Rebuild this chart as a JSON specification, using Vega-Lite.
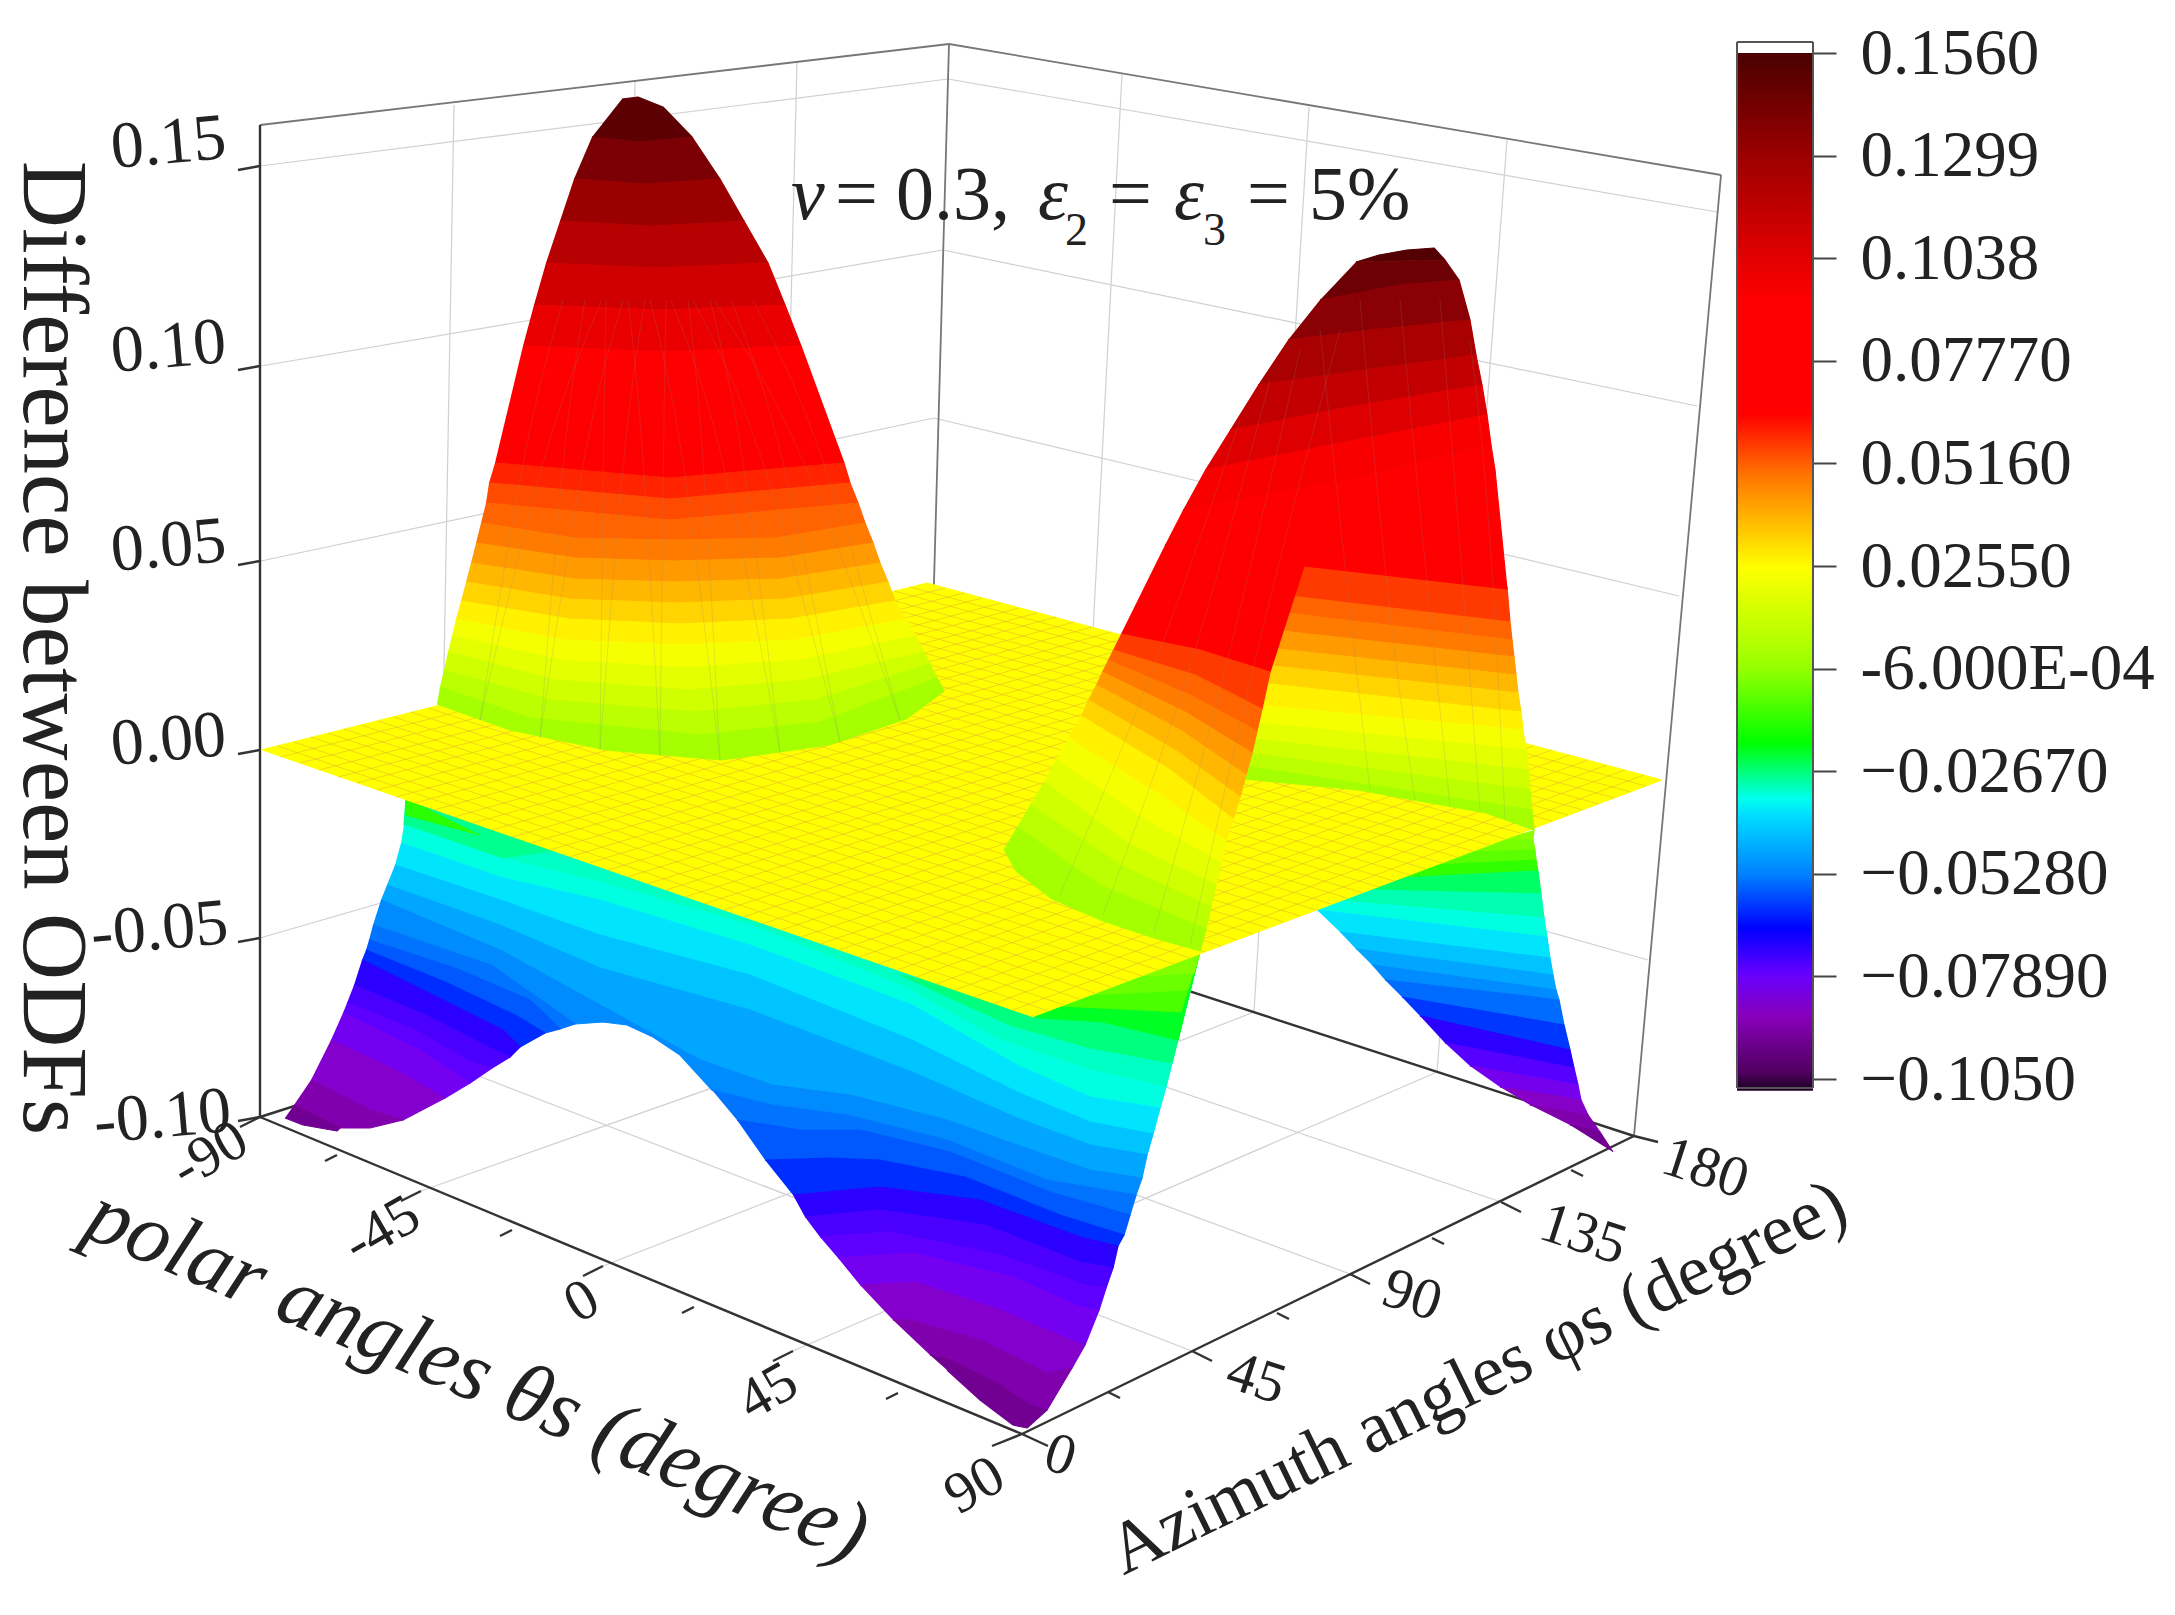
{"$schema":"https://vega.github.io/schema/vega-lite/v6.json","width":2175,"height":1615,"autosize":{"type":"none"},"padding":0,"background":"white","config":{"view":{"stroke":null},"text":{"font":"Liberation Serif","color":"#222222"}},"datasets":{"bar":[{"a":0.156,"b":-0.108}],
"grid":[{"x":260,"y":166,"x2":948,"y2":79},{"x":261,"y":366,"x2":943,"y2":250},{"x":261,"y":561,"x2":934,"y2":418},{"x":260,"y":938,"x2":926,"y2":745},{"x":948,"y":79,"x2":1717,"y2":212},{"x":943,"y":250,"x2":1697,"y2":406},{"x":934,"y":418,"x2":1679,"y2":596},{"x":926,"y":755,"x2":1648,"y2":960},{"x":454,"y":105,"x2":437,"y2":1060},{"x":635,"y":82,"x2":618,"y2":1003},{"x":797,"y":62,"x2":775,"y2":953},{"x":1122,"y":74,"x2":1076,"y2":959},{"x":1309,"y":107,"x2":1254,"y2":1012},{"x":1507,"y":140,"x2":1437,"y2":1072},{"x":1192,"y":1351,"x2":437,"y2":1060},{"x":1350,"y":1274,"x2":618,"y2":1003},{"x":1501,"y":1202,"x2":775,"y2":953},{"x":421,"y":1191,"x2":1076,"y2":959},{"x":603,"y":1266,"x2":1254,"y2":1012},{"x":793,"y":1351,"x2":1437,"y2":1072}],
"box":[{"x":260,"y":125,"x2":949,"y2":44},{"x":949,"y":44,"x2":1721,"y2":175},{"x":1721,"y":175,"x2":1634,"y2":1136},{"x":949,"y":44,"x2":925,"y2":905}],
"axes":[{"x":260,"y":125,"x2":260,"y2":1117},{"x":260,"y":1117,"x2":1022,"y2":1434},{"x":1022,"y":1434,"x2":1634,"y2":1136},{"x":260,"y":1117,"x2":925,"y2":905},{"x":925,"y":905,"x2":1634,"y2":1136},{"x":238,"y":170,"x2":260,"y2":166},{"x":238,"y":370,"x2":260,"y2":366},{"x":238,"y":565,"x2":260,"y2":561},{"x":238,"y":754,"x2":260,"y2":750},{"x":238,"y":942,"x2":260,"y2":938},{"x":238,"y":1121,"x2":260,"y2":1117},{"x":260,"y":1117,"x2":240,"y2":1127},{"x":421,"y":1191,"x2":401,"y2":1201},{"x":603,"y":1266,"x2":583,"y2":1276},{"x":793,"y":1351,"x2":773,"y2":1361},{"x":1022,"y":1434,"x2":992,"y2":1446},{"x":337,"y":1155,"x2":325,"y2":1161},{"x":512,"y":1230,"x2":500,"y2":1236},{"x":694,"y":1307,"x2":682,"y2":1313},{"x":898,"y":1393,"x2":886,"y2":1399},{"x":1022,"y":1434,"x2":1048,"y2":1446},{"x":1192,"y":1351,"x2":1212,"y2":1361},{"x":1350,"y":1274,"x2":1370,"y2":1284},{"x":1501,"y":1202,"x2":1521,"y2":1212},{"x":1634,"y":1136,"x2":1658,"y2":1142},{"x":1108,"y":1392,"x2":1120,"y2":1398},{"x":1277,"y":1313,"x2":1289,"y2":1319},{"x":1432,"y":1238,"x2":1444,"y2":1244},{"x":1571,"y":1170,"x2":1583,"y2":1176}],
"barbox":[{"x":1737,"y":42,"x2":1813,"y2":42},{"x":1737,"y":1088,"x2":1813,"y2":1088},{"x":1737,"y":42,"x2":1737,"y2":1088},{"x":1813,"y":42,"x2":1813,"y2":1088}],
"mesh":[{"x":278,"y":746,"x2":1048,"y2":1011},{"x":294,"y":742,"x2":1064,"y2":1005},{"x":311,"y":737,"x2":1079,"y2":999},{"x":328,"y":733,"x2":1095,"y2":993},{"x":344,"y":729,"x2":1111,"y2":987},{"x":361,"y":725,"x2":1127,"y2":981},{"x":378,"y":721,"x2":1142,"y2":976},{"x":394,"y":717,"x2":1158,"y2":970},{"x":411,"y":712,"x2":1174,"y2":964},{"x":428,"y":708,"x2":1190,"y2":958},{"x":444,"y":704,"x2":1205,"y2":952},{"x":461,"y":700,"x2":1221,"y2":946},{"x":477,"y":696,"x2":1237,"y2":940},{"x":494,"y":692,"x2":1253,"y2":934},{"x":511,"y":687,"x2":1268,"y2":928},{"x":527,"y":683,"x2":1284,"y2":922},{"x":544,"y":679,"x2":1300,"y2":916},{"x":561,"y":675,"x2":1316,"y2":910},{"x":577,"y":671,"x2":1331,"y2":904},{"x":594,"y":667,"x2":1347,"y2":898},{"x":611,"y":662,"x2":1363,"y2":893},{"x":627,"y":658,"x2":1379,"y2":887},{"x":644,"y":654,"x2":1394,"y2":881},{"x":661,"y":650,"x2":1410,"y2":875},{"x":677,"y":646,"x2":1426,"y2":869},{"x":694,"y":641,"x2":1442,"y2":863},{"x":711,"y":637,"x2":1457,"y2":857},{"x":727,"y":633,"x2":1473,"y2":851},{"x":744,"y":629,"x2":1489,"y2":845},{"x":761,"y":625,"x2":1505,"y2":839},{"x":777,"y":621,"x2":1520,"y2":833},{"x":794,"y":616,"x2":1536,"y2":827},{"x":810,"y":612,"x2":1552,"y2":821},{"x":827,"y":608,"x2":1568,"y2":815},{"x":844,"y":604,"x2":1583,"y2":810},{"x":860,"y":600,"x2":1599,"y2":804},{"x":877,"y":596,"x2":1615,"y2":798},{"x":894,"y":591,"x2":1631,"y2":792},{"x":910,"y":587,"x2":1646,"y2":786},{"x":280,"y":757,"x2":945,"y2":588},{"x":300,"y":763,"x2":964,"y2":593},{"x":319,"y":770,"x2":982,"y2":598},{"x":338,"y":777,"x2":1001,"y2":603},{"x":357,"y":783,"x2":1019,"y2":608},{"x":377,"y":790,"x2":1037,"y2":613},{"x":396,"y":797,"x2":1056,"y2":617},{"x":415,"y":803,"x2":1074,"y2":622},{"x":434,"y":810,"x2":1092,"y2":627},{"x":454,"y":817,"x2":1111,"y2":632},{"x":473,"y":823,"x2":1129,"y2":637},{"x":492,"y":830,"x2":1148,"y2":642},{"x":512,"y":837,"x2":1166,"y2":647},{"x":531,"y":843,"x2":1184,"y2":652},{"x":550,"y":850,"x2":1203,"y2":657},{"x":569,"y":857,"x2":1221,"y2":662},{"x":589,"y":863,"x2":1239,"y2":667},{"x":608,"y":870,"x2":1258,"y2":672},{"x":627,"y":877,"x2":1276,"y2":677},{"x":647,"y":884,"x2":1295,"y2":682},{"x":666,"y":890,"x2":1313,"y2":686},{"x":685,"y":897,"x2":1331,"y2":691},{"x":704,"y":904,"x2":1350,"y2":696},{"x":724,"y":910,"x2":1368,"y2":701},{"x":743,"y":917,"x2":1386,"y2":706},{"x":762,"y":924,"x2":1405,"y2":711},{"x":781,"y":930,"x2":1423,"y2":716},{"x":801,"y":937,"x2":1441,"y2":721},{"x":820,"y":944,"x2":1460,"y2":726},{"x":839,"y":950,"x2":1478,"y2":731},{"x":859,"y":957,"x2":1497,"y2":736},{"x":878,"y":964,"x2":1515,"y2":741},{"x":897,"y":970,"x2":1533,"y2":746},{"x":916,"y":977,"x2":1552,"y2":750},{"x":936,"y":984,"x2":1570,"y2":755},{"x":955,"y":990,"x2":1588,"y2":760},{"x":974,"y":997,"x2":1607,"y2":765},{"x":993,"y":1004,"x2":1625,"y2":770},{"x":1013,"y":1010,"x2":1644,"y2":775}],
"plane":[{"x":261,"y":750},{"x":927,"y":583},{"x":1662,"y":780},{"x":1032,"y":1017}],
"under":[
{"p":"U0","z":-0.029,"x":406,"y":798},{"p":"U0","z":-0.029,"x":1032,"y":1014},{"p":"U0","z":-0.029,"x":1200,"y":951},{"p":"U0","z":-0.029,"x":1166,"y":1087},{"p":"U0","z":-0.029,"x":1090,"y":1070},{"p":"U0","z":-0.029,"x":1000,"y":1040},{"p":"U0","z":-0.029,"x":900,"y":985},{"p":"U0","z":-0.029,"x":750,"y":925},{"p":"U0","z":-0.029,"x":600,"y":882},{"p":"U0","z":-0.029,"x":500,"y":858},{"p":"U0","z":-0.029,"x":404,"y":825},
{"p":"W1","z":-0.024,"x":1200,"y":951},{"p":"W1","z":-0.024,"x":1172,"y":1063},{"p":"W1","z":-0.024,"x":1090,"y":1048},{"p":"W1","z":-0.024,"x":1010,"y":1025},{"p":"W1","z":-0.024,"x":900,"y":975},{"p":"W1","z":-0.024,"x":1032,"y":1000},
{"p":"W2","z":-0.02,"x":1200,"y":951},{"p":"W2","z":-0.02,"x":1178,"y":1040},{"p":"W2","z":-0.02,"x":1103,"y":1022},{"p":"W2","z":-0.02,"x":1040,"y":1018},{"p":"W2","z":-0.02,"x":990,"y":1000},{"p":"W2","z":-0.02,"x":1032,"y":1000},
{"p":"W3","z":-0.015,"x":1200,"y":951},{"p":"W3","z":-0.015,"x":1181,"y":1012},{"p":"W3","z":-0.015,"x":1060,"y":1006},{"p":"W3","z":-0.015,"x":1100,"y":980},
{"p":"W4","z":-0.01,"x":1200,"y":951},{"p":"W4","z":-0.01,"x":1187,"y":990},{"p":"W4","z":-0.01,"x":1090,"y":995},{"p":"W4","z":-0.01,"x":1130,"y":970},
{"p":"W5","z":-0.005,"x":1200,"y":951},{"p":"W5","z":-0.005,"x":1194,"y":973},{"p":"W5","z":-0.005,"x":1140,"y":976},
{"p":"W6","z":-0.025,"x":406,"y":798},{"p":"W6","z":-0.025,"x":404,"y":825},{"p":"W6","z":-0.025,"x":500,"y":858},{"p":"W6","z":-0.025,"x":560,"y":850},
{"p":"W7","z":-0.018,"x":406,"y":798},{"p":"W7","z":-0.018,"x":406,"y":815},{"p":"W7","z":-0.018,"x":480,"y":835},
{"p":"S1","z":-0.032,"x":404,"y":825},{"p":"S1","z":-0.032,"x":500,"y":858},{"p":"S1","z":-0.032,"x":600,"y":882},{"p":"S1","z":-0.032,"x":750,"y":925},{"p":"S1","z":-0.032,"x":900,"y":985},{"p":"S1","z":-0.032,"x":1000,"y":1040},{"p":"S1","z":-0.032,"x":1090,"y":1070},{"p":"S1","z":-0.032,"x":1166,"y":1087},{"p":"S1","z":-0.032,"x":1160,"y":1108},{"p":"S1","z":-0.032,"x":1090,"y":1097},{"p":"S1","z":-0.032,"x":1017,"y":1065},{"p":"S1","z":-0.032,"x":912,"y":1005},{"p":"S1","z":-0.032,"x":750,"y":945},{"p":"S1","z":-0.032,"x":600,"y":900},{"p":"S1","z":-0.032,"x":503,"y":878},{"p":"S1","z":-0.032,"x":401,"y":843},
{"p":"S2","z":-0.037,"x":401,"y":843},{"p":"S2","z":-0.037,"x":503,"y":878},{"p":"S2","z":-0.037,"x":600,"y":900},{"p":"S2","z":-0.037,"x":750,"y":945},{"p":"S2","z":-0.037,"x":912,"y":1005},{"p":"S2","z":-0.037,"x":1017,"y":1065},{"p":"S2","z":-0.037,"x":1090,"y":1097},{"p":"S2","z":-0.037,"x":1160,"y":1108},{"p":"S2","z":-0.037,"x":1153,"y":1134},{"p":"S2","z":-0.037,"x":1090,"y":1122},{"p":"S2","z":-0.037,"x":1017,"y":1092},{"p":"S2","z":-0.037,"x":912,"y":1040},{"p":"S2","z":-0.037,"x":750,"y":975},{"p":"S2","z":-0.037,"x":600,"y":935},{"p":"S2","z":-0.037,"x":500,"y":900},{"p":"S2","z":-0.037,"x":395,"y":865},
{"p":"S3","z":-0.0425,"x":395,"y":865},{"p":"S3","z":-0.0425,"x":500,"y":900},{"p":"S3","z":-0.0425,"x":600,"y":935},{"p":"S3","z":-0.0425,"x":750,"y":975},{"p":"S3","z":-0.0425,"x":912,"y":1040},{"p":"S3","z":-0.0425,"x":1017,"y":1092},{"p":"S3","z":-0.0425,"x":1090,"y":1122},{"p":"S3","z":-0.0425,"x":1153,"y":1134},{"p":"S3","z":-0.0425,"x":1147,"y":1155},{"p":"S3","z":-0.0425,"x":1090,"y":1145},{"p":"S3","z":-0.0425,"x":1017,"y":1118},{"p":"S3","z":-0.0425,"x":912,"y":1072},{"p":"S3","z":-0.0425,"x":750,"y":1010},{"p":"S3","z":-0.0425,"x":600,"y":968},{"p":"S3","z":-0.0425,"x":500,"y":925},{"p":"S3","z":-0.0425,"x":387,"y":885},
{"p":"S4","z":-0.0475,"x":387,"y":885},{"p":"S4","z":-0.0475,"x":500,"y":925},{"p":"S4","z":-0.0475,"x":600,"y":968},{"p":"S4","z":-0.0475,"x":750,"y":1010},{"p":"S4","z":-0.0475,"x":912,"y":1072},{"p":"S4","z":-0.0475,"x":1017,"y":1118},{"p":"S4","z":-0.0475,"x":1090,"y":1145},{"p":"S4","z":-0.0475,"x":1147,"y":1155},{"p":"S4","z":-0.0475,"x":1142,"y":1178},{"p":"S4","z":-0.0475,"x":1090,"y":1170},{"p":"S4","z":-0.0475,"x":1017,"y":1145},{"p":"S4","z":-0.0475,"x":947,"y":1120},{"p":"S4","z":-0.0475,"x":850,"y":1095},{"p":"S4","z":-0.0475,"x":772,"y":1085},{"p":"S4","z":-0.0475,"x":700,"y":1060},{"p":"S4","z":-0.0475,"x":600,"y":1005},{"p":"S4","z":-0.0475,"x":500,"y":950},{"p":"S4","z":-0.0475,"x":381,"y":900},
{"p":"S5","z":-0.0515,"x":381,"y":900},{"p":"S5","z":-0.0515,"x":500,"y":950},{"p":"S5","z":-0.0515,"x":600,"y":1005},{"p":"S5","z":-0.0515,"x":700,"y":1060},{"p":"S5","z":-0.0515,"x":772,"y":1085},{"p":"S5","z":-0.0515,"x":850,"y":1095},{"p":"S5","z":-0.0515,"x":947,"y":1120},{"p":"S5","z":-0.0515,"x":1017,"y":1145},{"p":"S5","z":-0.0515,"x":1090,"y":1170},{"p":"S5","z":-0.0515,"x":1142,"y":1178},{"p":"S5","z":-0.0515,"x":1136,"y":1195},{"p":"S5","z":-0.0515,"x":1047,"y":1180},{"p":"S5","z":-0.0515,"x":947,"y":1140},{"p":"S5","z":-0.0515,"x":847,"y":1115},{"p":"S5","z":-0.0515,"x":772,"y":1105},{"p":"S5","z":-0.0515,"x":712,"y":1090},{"p":"S5","z":-0.0515,"x":680,"y":1055},{"p":"S5","z":-0.0515,"x":653,"y":1037},{"p":"S5","z":-0.0515,"x":627,"y":1025},{"p":"S5","z":-0.0515,"x":603,"y":1022},{"p":"S5","z":-0.0515,"x":575,"y":1024},{"p":"S5","z":-0.0515,"x":491,"y":965},{"p":"S5","z":-0.0515,"x":373,"y":925},
{"p":"L1","z":-0.055,"x":373,"y":925},{"p":"L1","z":-0.055,"x":491,"y":965},{"p":"L1","z":-0.055,"x":575,"y":1024},{"p":"L1","z":-0.055,"x":560,"y":1029},{"p":"L1","z":-0.055,"x":530,"y":1000},{"p":"L1","z":-0.055,"x":455,"y":968},{"p":"L1","z":-0.055,"x":369,"y":940},
{"p":"L2","z":-0.0595,"x":369,"y":940},{"p":"L2","z":-0.0595,"x":455,"y":968},{"p":"L2","z":-0.0595,"x":530,"y":1000},{"p":"L2","z":-0.0595,"x":560,"y":1029},{"p":"L2","z":-0.0595,"x":545,"y":1033},{"p":"L2","z":-0.0595,"x":515,"y":1015},{"p":"L2","z":-0.0595,"x":445,"y":982},{"p":"L2","z":-0.0595,"x":366,"y":950},
{"p":"L3","z":-0.0645,"x":366,"y":950},{"p":"L3","z":-0.0645,"x":445,"y":982},{"p":"L3","z":-0.0645,"x":515,"y":1015},{"p":"L3","z":-0.0645,"x":545,"y":1033},{"p":"L3","z":-0.0645,"x":520,"y":1047},{"p":"L3","z":-0.0645,"x":503,"y":1030},{"p":"L3","z":-0.0645,"x":437,"y":997},{"p":"L3","z":-0.0645,"x":362,"y":960},
{"p":"L4","z":-0.069,"x":362,"y":960},{"p":"L4","z":-0.069,"x":437,"y":997},{"p":"L4","z":-0.069,"x":503,"y":1030},{"p":"L4","z":-0.069,"x":520,"y":1047},{"p":"L4","z":-0.069,"x":510,"y":1057},{"p":"L4","z":-0.069,"x":490,"y":1048},{"p":"L4","z":-0.069,"x":425,"y":1015},{"p":"L4","z":-0.069,"x":354,"y":985},
{"p":"L5","z":-0.073,"x":354,"y":985},{"p":"L5","z":-0.073,"x":425,"y":1015},{"p":"L5","z":-0.073,"x":490,"y":1048},{"p":"L5","z":-0.073,"x":510,"y":1057},{"p":"L5","z":-0.073,"x":492,"y":1068},{"p":"L5","z":-0.073,"x":470,"y":1062},{"p":"L5","z":-0.073,"x":415,"y":1030},{"p":"L5","z":-0.073,"x":347,"y":1003},
{"p":"L6","z":-0.0765,"x":347,"y":1003},{"p":"L6","z":-0.0765,"x":415,"y":1030},{"p":"L6","z":-0.0765,"x":470,"y":1062},{"p":"L6","z":-0.0765,"x":492,"y":1068},{"p":"L6","z":-0.0765,"x":470,"y":1083},{"p":"L6","z":-0.0765,"x":420,"y":1050},{"p":"L6","z":-0.0765,"x":343,"y":1013},
{"p":"L7","z":-0.0805,"x":343,"y":1013},{"p":"L7","z":-0.0805,"x":420,"y":1050},{"p":"L7","z":-0.0805,"x":470,"y":1083},{"p":"L7","z":-0.0805,"x":445,"y":1098},{"p":"L7","z":-0.0805,"x":395,"y":1070},{"p":"L7","z":-0.0805,"x":331,"y":1040},
{"p":"L8","z":-0.086,"x":331,"y":1040},{"p":"L8","z":-0.086,"x":395,"y":1070},{"p":"L8","z":-0.086,"x":445,"y":1098},{"p":"L8","z":-0.086,"x":403,"y":1120},{"p":"L8","z":-0.086,"x":370,"y":1110},{"p":"L8","z":-0.086,"x":311,"y":1080},
{"p":"L9","z":-0.091,"x":311,"y":1080},{"p":"L9","z":-0.091,"x":370,"y":1110},{"p":"L9","z":-0.091,"x":403,"y":1120},{"p":"L9","z":-0.091,"x":370,"y":1128},{"p":"L9","z":-0.091,"x":340,"y":1128},{"p":"L9","z":-0.091,"x":294,"y":1105},
{"p":"L10","z":-0.095,"x":294,"y":1105},{"p":"L10","z":-0.095,"x":340,"y":1128},{"p":"L10","z":-0.095,"x":337,"y":1131},{"p":"L10","z":-0.095,"x":303,"y":1125},{"p":"L10","z":-0.095,"x":285,"y":1118},
{"p":"R1","z":-0.055,"x":712,"y":1090},{"p":"R1","z":-0.055,"x":772,"y":1105},{"p":"R1","z":-0.055,"x":847,"y":1115},{"p":"R1","z":-0.055,"x":947,"y":1140},{"p":"R1","z":-0.055,"x":1047,"y":1180},{"p":"R1","z":-0.055,"x":1136,"y":1195},{"p":"R1","z":-0.055,"x":1130,"y":1215},{"p":"R1","z":-0.055,"x":1050,"y":1192},{"p":"R1","z":-0.055,"x":950,"y":1152},{"p":"R1","z":-0.055,"x":860,"y":1130},{"p":"R1","z":-0.055,"x":800,"y":1130},{"p":"R1","z":-0.055,"x":737,"y":1120},
{"p":"R2","z":-0.0595,"x":737,"y":1120},{"p":"R2","z":-0.0595,"x":800,"y":1130},{"p":"R2","z":-0.0595,"x":860,"y":1130},{"p":"R2","z":-0.0595,"x":950,"y":1152},{"p":"R2","z":-0.0595,"x":1050,"y":1192},{"p":"R2","z":-0.0595,"x":1130,"y":1215},{"p":"R2","z":-0.0595,"x":1124,"y":1235},{"p":"R2","z":-0.0595,"x":1060,"y":1215},{"p":"R2","z":-0.0595,"x":965,"y":1177},{"p":"R2","z":-0.0595,"x":880,"y":1160},{"p":"R2","z":-0.0595,"x":830,"y":1158},{"p":"R2","z":-0.0595,"x":765,"y":1160},
{"p":"R3","z":-0.0645,"x":765,"y":1160},{"p":"R3","z":-0.0645,"x":830,"y":1158},{"p":"R3","z":-0.0645,"x":880,"y":1160},{"p":"R3","z":-0.0645,"x":965,"y":1177},{"p":"R3","z":-0.0645,"x":1060,"y":1215},{"p":"R3","z":-0.0645,"x":1124,"y":1235},{"p":"R3","z":-0.0645,"x":1118,"y":1246},{"p":"R3","z":-0.0645,"x":1080,"y":1237},{"p":"R3","z":-0.0645,"x":980,"y":1200},{"p":"R3","z":-0.0645,"x":880,"y":1187},{"p":"R3","z":-0.0645,"x":793,"y":1195},
{"p":"R4","z":-0.069,"x":793,"y":1195},{"p":"R4","z":-0.069,"x":880,"y":1187},{"p":"R4","z":-0.069,"x":980,"y":1200},{"p":"R4","z":-0.069,"x":1080,"y":1237},{"p":"R4","z":-0.069,"x":1118,"y":1246},{"p":"R4","z":-0.069,"x":1113,"y":1268},{"p":"R4","z":-0.069,"x":1080,"y":1262},{"p":"R4","z":-0.069,"x":985,"y":1225},{"p":"R4","z":-0.069,"x":880,"y":1210},{"p":"R4","z":-0.069,"x":805,"y":1217},
{"p":"R5","z":-0.073,"x":805,"y":1217},{"p":"R5","z":-0.073,"x":880,"y":1210},{"p":"R5","z":-0.073,"x":985,"y":1225},{"p":"R5","z":-0.073,"x":1080,"y":1262},{"p":"R5","z":-0.073,"x":1113,"y":1268},{"p":"R5","z":-0.073,"x":1106,"y":1288},{"p":"R5","z":-0.073,"x":1085,"y":1285},{"p":"R5","z":-0.073,"x":1000,"y":1255},{"p":"R5","z":-0.073,"x":890,"y":1232},{"p":"R5","z":-0.073,"x":820,"y":1237},
{"p":"R6","z":-0.0765,"x":820,"y":1237},{"p":"R6","z":-0.0765,"x":890,"y":1232},{"p":"R6","z":-0.0765,"x":1000,"y":1255},{"p":"R6","z":-0.0765,"x":1085,"y":1285},{"p":"R6","z":-0.0765,"x":1106,"y":1288},{"p":"R6","z":-0.0765,"x":1099,"y":1310},{"p":"R6","z":-0.0765,"x":1080,"y":1307},{"p":"R6","z":-0.0765,"x":1013,"y":1277},{"p":"R6","z":-0.0765,"x":913,"y":1253},{"p":"R6","z":-0.0765,"x":838,"y":1258},
{"p":"R7","z":-0.0805,"x":838,"y":1258},{"p":"R7","z":-0.0805,"x":913,"y":1253},{"p":"R7","z":-0.0805,"x":1013,"y":1277},{"p":"R7","z":-0.0805,"x":1080,"y":1307},{"p":"R7","z":-0.0805,"x":1099,"y":1310},{"p":"R7","z":-0.0805,"x":1085,"y":1345},{"p":"R7","z":-0.0805,"x":1070,"y":1340},{"p":"R7","z":-0.0805,"x":1000,"y":1310},{"p":"R7","z":-0.0805,"x":915,"y":1282},{"p":"R7","z":-0.0805,"x":860,"y":1285},
{"p":"R8","z":-0.086,"x":860,"y":1285},{"p":"R8","z":-0.086,"x":915,"y":1282},{"p":"R8","z":-0.086,"x":1000,"y":1310},{"p":"R8","z":-0.086,"x":1070,"y":1340},{"p":"R8","z":-0.086,"x":1085,"y":1345},{"p":"R8","z":-0.086,"x":1072,"y":1368},{"p":"R8","z":-0.086,"x":1047,"y":1373},{"p":"R8","z":-0.086,"x":980,"y":1340},{"p":"R8","z":-0.086,"x":910,"y":1320},{"p":"R8","z":-0.086,"x":893,"y":1320},
{"p":"R9","z":-0.091,"x":893,"y":1320},{"p":"R9","z":-0.091,"x":910,"y":1320},{"p":"R9","z":-0.091,"x":980,"y":1340},{"p":"R9","z":-0.091,"x":1047,"y":1373},{"p":"R9","z":-0.091,"x":1072,"y":1368},{"p":"R9","z":-0.091,"x":1047,"y":1410},{"p":"R9","z":-0.091,"x":1030,"y":1405},{"p":"R9","z":-0.091,"x":1000,"y":1385},{"p":"R9","z":-0.091,"x":950,"y":1360},{"p":"R9","z":-0.091,"x":930,"y":1355},
{"p":"R10","z":-0.095,"x":930,"y":1355},{"p":"R10","z":-0.095,"x":950,"y":1360},{"p":"R10","z":-0.095,"x":1000,"y":1385},{"p":"R10","z":-0.095,"x":1030,"y":1405},{"p":"R10","z":-0.095,"x":1047,"y":1410},{"p":"R10","z":-0.095,"x":1027,"y":1428},{"p":"R10","z":-0.095,"x":1013,"y":1425},{"p":"R10","z":-0.095,"x":980,"y":1400},{"p":"R10","z":-0.095,"x":947,"y":1370},
{"p":"K1","z":-0.0025,"x":1534,"y":830},{"p":"K1","z":-0.0025,"x":1533,"y":840},{"p":"K1","z":-0.0025,"x":1500,"y":840},
{"p":"K2","z":-0.0075,"x":1500,"y":840},{"p":"K2","z":-0.0075,"x":1533,"y":840},{"p":"K2","z":-0.0075,"x":1535,"y":850},{"p":"K2","z":-0.0075,"x":1470,"y":852},
{"p":"K3","z":-0.0125,"x":1470,"y":852},{"p":"K3","z":-0.0125,"x":1535,"y":850},{"p":"K3","z":-0.0125,"x":1536,"y":860},{"p":"K3","z":-0.0125,"x":1435,"y":865},
{"p":"K4","z":-0.0175,"x":1435,"y":865},{"p":"K4","z":-0.0175,"x":1536,"y":860},{"p":"K4","z":-0.0175,"x":1538,"y":871},{"p":"K4","z":-0.0175,"x":1400,"y":878},
{"p":"K5","z":-0.0225,"x":1400,"y":878},{"p":"K5","z":-0.0225,"x":1538,"y":871},{"p":"K5","z":-0.0225,"x":1541,"y":894},{"p":"K5","z":-0.0225,"x":1370,"y":890},
{"p":"K6","z":-0.0275,"x":1370,"y":890},{"p":"K6","z":-0.0275,"x":1541,"y":894},{"p":"K6","z":-0.0275,"x":1544,"y":918},{"p":"K6","z":-0.0275,"x":1340,"y":901},
{"p":"K7","z":-0.032,"x":1340,"y":901},{"p":"K7","z":-0.032,"x":1544,"y":918},{"p":"K7","z":-0.032,"x":1547,"y":937},{"p":"K7","z":-0.032,"x":1317,"y":910},
{"p":"K8","z":-0.037,"x":1317,"y":910},{"p":"K8","z":-0.037,"x":1547,"y":937},{"p":"K8","z":-0.037,"x":1550,"y":958},{"p":"K8","z":-0.037,"x":1340,"y":932},
{"p":"K9","z":-0.0425,"x":1340,"y":932},{"p":"K9","z":-0.0425,"x":1550,"y":958},{"p":"K9","z":-0.0425,"x":1553,"y":975},{"p":"K9","z":-0.0425,"x":1356,"y":949},
{"p":"K10","z":-0.0475,"x":1356,"y":949},{"p":"K10","z":-0.0475,"x":1553,"y":975},{"p":"K10","z":-0.0475,"x":1556,"y":990},{"p":"K10","z":-0.0475,"x":1372,"y":965},
{"p":"K11","z":-0.0515,"x":1372,"y":965},{"p":"K11","z":-0.0515,"x":1556,"y":990},{"p":"K11","z":-0.0515,"x":1559,"y":1000},{"p":"K11","z":-0.0515,"x":1385,"y":980},
{"p":"K12","z":-0.0565,"x":1385,"y":980},{"p":"K12","z":-0.0565,"x":1559,"y":1000},{"p":"K12","z":-0.0565,"x":1564,"y":1025},{"p":"K12","z":-0.0565,"x":1402,"y":997},
{"p":"K13","z":-0.0635,"x":1402,"y":997},{"p":"K13","z":-0.0635,"x":1564,"y":1025},{"p":"K13","z":-0.0635,"x":1570,"y":1050},{"p":"K13","z":-0.0635,"x":1420,"y":1016},
{"p":"K14","z":-0.069,"x":1420,"y":1016},{"p":"K14","z":-0.069,"x":1570,"y":1050},{"p":"K14","z":-0.069,"x":1574,"y":1068},{"p":"K14","z":-0.069,"x":1445,"y":1043},
{"p":"K15","z":-0.075,"x":1445,"y":1043},{"p":"K15","z":-0.075,"x":1574,"y":1068},{"p":"K15","z":-0.075,"x":1578,"y":1085},{"p":"K15","z":-0.075,"x":1470,"y":1066},
{"p":"K16","z":-0.081,"x":1470,"y":1066},{"p":"K16","z":-0.081,"x":1578,"y":1085},{"p":"K16","z":-0.081,"x":1581,"y":1100},{"p":"K16","z":-0.081,"x":1500,"y":1087},
{"p":"K17","z":-0.087,"x":1500,"y":1087},{"p":"K17","z":-0.087,"x":1581,"y":1100},{"p":"K17","z":-0.087,"x":1588,"y":1115},{"p":"K17","z":-0.087,"x":1530,"y":1105},
{"p":"K18","z":-0.091,"x":1530,"y":1105},{"p":"K18","z":-0.091,"x":1588,"y":1115},{"p":"K18","z":-0.091,"x":1600,"y":1132},{"p":"K18","z":-0.091,"x":1570,"y":1125},
{"p":"K19","z":-0.095,"x":1570,"y":1125},{"p":"K19","z":-0.095,"x":1600,"y":1132},{"p":"K19","z":-0.095,"x":1613,"y":1152}
],
"over":[
{"p":"A01","z":0.15,"x":622,"y":99},{"p":"A01","z":0.15,"x":638,"y":97},{"p":"A01","z":0.15,"x":663,"y":107},{"p":"A01","z":0.15,"x":692,"y":137},{"p":"A01","z":0.15,"x":640,"y":142},{"p":"A01","z":0.15,"x":592,"y":137},
{"p":"A02","z":0.14,"x":592,"y":137},{"p":"A02","z":0.14,"x":640,"y":142},{"p":"A02","z":0.14,"x":692,"y":137},{"p":"A02","z":0.14,"x":720,"y":179},{"p":"A02","z":0.14,"x":645,"y":184},{"p":"A02","z":0.14,"x":574,"y":179},
{"p":"A03","z":0.13,"x":574,"y":179},{"p":"A03","z":0.13,"x":645,"y":184},{"p":"A03","z":0.13,"x":720,"y":179},{"p":"A03","z":0.13,"x":744,"y":221},{"p":"A03","z":0.13,"x":650,"y":226},{"p":"A03","z":0.13,"x":560,"y":221},
{"p":"A04","z":0.12,"x":560,"y":221},{"p":"A04","z":0.12,"x":650,"y":226},{"p":"A04","z":0.12,"x":744,"y":221},{"p":"A04","z":0.12,"x":768,"y":263},{"p":"A04","z":0.12,"x":655,"y":268},{"p":"A04","z":0.12,"x":546,"y":263},
{"p":"A05","z":0.11,"x":546,"y":263},{"p":"A05","z":0.11,"x":655,"y":268},{"p":"A05","z":0.11,"x":768,"y":263},{"p":"A05","z":0.11,"x":785,"y":305},{"p":"A05","z":0.11,"x":660,"y":310},{"p":"A05","z":0.11,"x":534,"y":305},
{"p":"A06","z":0.1,"x":534,"y":305},{"p":"A06","z":0.1,"x":660,"y":310},{"p":"A06","z":0.1,"x":785,"y":305},{"p":"A06","z":0.1,"x":801,"y":346},{"p":"A06","z":0.1,"x":662,"y":352},{"p":"A06","z":0.1,"x":523,"y":346},
{"p":"A07","z":0.08,"x":523,"y":346},{"p":"A07","z":0.08,"x":662,"y":352},{"p":"A07","z":0.08,"x":801,"y":346},{"p":"A07","z":0.08,"x":844,"y":463},{"p":"A07","z":0.08,"x":670,"y":478},{"p":"A07","z":0.08,"x":495,"y":463},
{"p":"A08","z":0.0625,"x":495,"y":463},{"p":"A08","z":0.0625,"x":670,"y":478},{"p":"A08","z":0.0625,"x":844,"y":463},{"p":"A08","z":0.0625,"x":850,"y":483},{"p":"A08","z":0.0625,"x":670,"y":499},{"p":"A08","z":0.0625,"x":489,"y":483},
{"p":"A09","z":0.0575,"x":489,"y":483},{"p":"A09","z":0.0575,"x":670,"y":499},{"p":"A09","z":0.0575,"x":850,"y":483},{"p":"A09","z":0.0575,"x":858,"y":503},{"p":"A09","z":0.0575,"x":670,"y":520},{"p":"A09","z":0.0575,"x":486,"y":503},
{"p":"A10","z":0.0525,"x":486,"y":503},{"p":"A10","z":0.0525,"x":670,"y":520},{"p":"A10","z":0.0525,"x":858,"y":503},{"p":"A10","z":0.0525,"x":865,"y":523},{"p":"A10","z":0.0525,"x":775,"y":538},{"p":"A10","z":0.0525,"x":675,"y":540},{"p":"A10","z":0.0525,"x":575,"y":538},{"p":"A10","z":0.0525,"x":481,"y":523},
{"p":"A11","z":0.0475,"x":481,"y":523},{"p":"A11","z":0.0475,"x":575,"y":538},{"p":"A11","z":0.0475,"x":675,"y":540},{"p":"A11","z":0.0475,"x":775,"y":538},{"p":"A11","z":0.0475,"x":865,"y":523},{"p":"A11","z":0.0475,"x":873,"y":543},{"p":"A11","z":0.0475,"x":780,"y":558},{"p":"A11","z":0.0475,"x":675,"y":561},{"p":"A11","z":0.0475,"x":575,"y":558},{"p":"A11","z":0.0475,"x":476,"y":543},
{"p":"A12","z":0.0425,"x":476,"y":543},{"p":"A12","z":0.0425,"x":575,"y":558},{"p":"A12","z":0.0425,"x":675,"y":561},{"p":"A12","z":0.0425,"x":780,"y":558},{"p":"A12","z":0.0425,"x":873,"y":543},{"p":"A12","z":0.0425,"x":880,"y":563},{"p":"A12","z":0.0425,"x":780,"y":579},{"p":"A12","z":0.0425,"x":675,"y":582},{"p":"A12","z":0.0425,"x":575,"y":579},{"p":"A12","z":0.0425,"x":471,"y":563},
{"p":"A13","z":0.0375,"x":471,"y":563},{"p":"A13","z":0.0375,"x":575,"y":579},{"p":"A13","z":0.0375,"x":675,"y":582},{"p":"A13","z":0.0375,"x":780,"y":579},{"p":"A13","z":0.0375,"x":880,"y":563},{"p":"A13","z":0.0375,"x":888,"y":582},{"p":"A13","z":0.0375,"x":785,"y":599},{"p":"A13","z":0.0375,"x":675,"y":603},{"p":"A13","z":0.0375,"x":570,"y":599},{"p":"A13","z":0.0375,"x":466,"y":582},
{"p":"A14","z":0.0325,"x":466,"y":582},{"p":"A14","z":0.0325,"x":570,"y":599},{"p":"A14","z":0.0325,"x":675,"y":603},{"p":"A14","z":0.0325,"x":785,"y":599},{"p":"A14","z":0.0325,"x":888,"y":582},{"p":"A14","z":0.0325,"x":895,"y":601},{"p":"A14","z":0.0325,"x":790,"y":619},{"p":"A14","z":0.0325,"x":680,"y":624},{"p":"A14","z":0.0325,"x":570,"y":619},{"p":"A14","z":0.0325,"x":461,"y":601},
{"p":"A15","z":0.0275,"x":461,"y":601},{"p":"A15","z":0.0275,"x":570,"y":619},{"p":"A15","z":0.0275,"x":680,"y":624},{"p":"A15","z":0.0275,"x":790,"y":619},{"p":"A15","z":0.0275,"x":895,"y":601},{"p":"A15","z":0.0275,"x":906,"y":619},{"p":"A15","z":0.0275,"x":795,"y":640},{"p":"A15","z":0.0275,"x":680,"y":645},{"p":"A15","z":0.0275,"x":565,"y":640},{"p":"A15","z":0.0275,"x":456,"y":619},
{"p":"A16","z":0.0225,"x":456,"y":619},{"p":"A16","z":0.0225,"x":565,"y":640},{"p":"A16","z":0.0225,"x":680,"y":645},{"p":"A16","z":0.0225,"x":795,"y":640},{"p":"A16","z":0.0225,"x":906,"y":619},{"p":"A16","z":0.0225,"x":915,"y":636},{"p":"A16","z":0.0225,"x":800,"y":660},{"p":"A16","z":0.0225,"x":685,"y":668},{"p":"A16","z":0.0225,"x":560,"y":660},{"p":"A16","z":0.0225,"x":452,"y":636},
{"p":"A17","z":0.0175,"x":452,"y":636},{"p":"A17","z":0.0175,"x":560,"y":660},{"p":"A17","z":0.0175,"x":685,"y":668},{"p":"A17","z":0.0175,"x":800,"y":660},{"p":"A17","z":0.0175,"x":915,"y":636},{"p":"A17","z":0.0175,"x":924,"y":652},{"p":"A17","z":0.0175,"x":805,"y":680},{"p":"A17","z":0.0175,"x":690,"y":690},{"p":"A17","z":0.0175,"x":555,"y":680},{"p":"A17","z":0.0175,"x":448,"y":652},
{"p":"A18","z":0.0125,"x":448,"y":652},{"p":"A18","z":0.0125,"x":555,"y":680},{"p":"A18","z":0.0125,"x":690,"y":690},{"p":"A18","z":0.0125,"x":805,"y":680},{"p":"A18","z":0.0125,"x":924,"y":652},{"p":"A18","z":0.0125,"x":930,"y":664},{"p":"A18","z":0.0125,"x":815,"y":700},{"p":"A18","z":0.0125,"x":695,"y":712},{"p":"A18","z":0.0125,"x":550,"y":700},{"p":"A18","z":0.0125,"x":444,"y":670},
{"p":"A19","z":0.0075,"x":444,"y":670},{"p":"A19","z":0.0075,"x":550,"y":700},{"p":"A19","z":0.0075,"x":695,"y":712},{"p":"A19","z":0.0075,"x":815,"y":700},{"p":"A19","z":0.0075,"x":930,"y":664},{"p":"A19","z":0.0075,"x":937,"y":678},{"p":"A19","z":0.0075,"x":820,"y":722},{"p":"A19","z":0.0075,"x":700,"y":735},{"p":"A19","z":0.0075,"x":530,"y":718},{"p":"A19","z":0.0075,"x":440,"y":687},
{"p":"A20","z":0.0025,"x":440,"y":687},{"p":"A20","z":0.0025,"x":530,"y":718},{"p":"A20","z":0.0025,"x":700,"y":735},{"p":"A20","z":0.0025,"x":820,"y":722},{"p":"A20","z":0.0025,"x":937,"y":678},{"p":"A20","z":0.0025,"x":944,"y":691},{"p":"A20","z":0.0025,"x":906,"y":719},{"p":"A20","z":0.0025,"x":829,"y":745},{"p":"A20","z":0.0025,"x":721,"y":760},{"p":"A20","z":0.0025,"x":606,"y":750},{"p":"A20","z":0.0025,"x":510,"y":730},{"p":"A20","z":0.0025,"x":437,"y":704},
{"p":"B01","z":0.06,"x":1290,"y":561},{"p":"B01","z":0.06,"x":1507,"y":587},{"p":"B01","z":0.06,"x":1510,"y":622},{"p":"B01","z":0.06,"x":1282,"y":595},
{"p":"B02","z":0.0525,"x":1282,"y":595},{"p":"B02","z":0.0525,"x":1510,"y":622},{"p":"B02","z":0.0525,"x":1512,"y":640},{"p":"B02","z":0.0525,"x":1278,"y":612},
{"p":"B03","z":0.0475,"x":1278,"y":612},{"p":"B03","z":0.0475,"x":1512,"y":640},{"p":"B03","z":0.0475,"x":1514,"y":657},{"p":"B03","z":0.0475,"x":1274,"y":630},
{"p":"B04","z":0.0425,"x":1274,"y":630},{"p":"B04","z":0.0425,"x":1514,"y":657},{"p":"B04","z":0.0425,"x":1516,"y":675},{"p":"B04","z":0.0425,"x":1270,"y":648},
{"p":"B05","z":0.0375,"x":1270,"y":648},{"p":"B05","z":0.0375,"x":1516,"y":675},{"p":"B05","z":0.0375,"x":1518,"y":693},{"p":"B05","z":0.0375,"x":1265,"y":665},
{"p":"B06","z":0.0325,"x":1265,"y":665},{"p":"B06","z":0.0325,"x":1518,"y":693},{"p":"B06","z":0.0325,"x":1521,"y":712},{"p":"B06","z":0.0325,"x":1260,"y":683},
{"p":"B07","z":0.0275,"x":1260,"y":683},{"p":"B07","z":0.0275,"x":1521,"y":712},{"p":"B07","z":0.0275,"x":1523,"y":730},{"p":"B07","z":0.0275,"x":1255,"y":705},
{"p":"B08","z":0.0225,"x":1255,"y":705},{"p":"B08","z":0.0225,"x":1523,"y":730},{"p":"B08","z":0.0225,"x":1526,"y":750},{"p":"B08","z":0.0225,"x":1250,"y":722},
{"p":"B09","z":0.0175,"x":1250,"y":722},{"p":"B09","z":0.0175,"x":1526,"y":750},{"p":"B09","z":0.0175,"x":1528,"y":770},{"p":"B09","z":0.0175,"x":1245,"y":738},
{"p":"B10","z":0.0125,"x":1245,"y":738},{"p":"B10","z":0.0125,"x":1528,"y":770},{"p":"B10","z":0.0125,"x":1530,"y":790},{"p":"B10","z":0.0125,"x":1240,"y":752},
{"p":"B11","z":0.0075,"x":1240,"y":752},{"p":"B11","z":0.0075,"x":1530,"y":790},{"p":"B11","z":0.0075,"x":1532,"y":810},{"p":"B11","z":0.0075,"x":1238,"y":765},
{"p":"B12","z":0.0025,"x":1238,"y":765},{"p":"B12","z":0.0025,"x":1532,"y":810},{"p":"B12","z":0.0025,"x":1534,"y":830},{"p":"B12","z":0.0025,"x":1486,"y":813},{"p":"B12","z":0.0025,"x":1358,"y":790},{"p":"B12","z":0.0025,"x":1235,"y":778},
{"p":"C00","z":0.153,"x":1356,"y":262},{"p":"C00","z":0.153,"x":1379,"y":255},{"p":"C00","z":0.153,"x":1407,"y":250},{"p":"C00","z":0.153,"x":1434,"y":248},{"p":"C00","z":0.153,"x":1445,"y":260},
{"p":"C01","z":0.145,"x":1356,"y":262},{"p":"C01","z":0.145,"x":1445,"y":260},{"p":"C01","z":0.145,"x":1459,"y":280},{"p":"C01","z":0.145,"x":1400,"y":285},{"p":"C01","z":0.145,"x":1320,"y":300},
{"p":"C02","z":0.135,"x":1320,"y":300},{"p":"C02","z":0.135,"x":1400,"y":285},{"p":"C02","z":0.135,"x":1459,"y":280},{"p":"C02","z":0.135,"x":1470,"y":320},{"p":"C02","z":0.135,"x":1370,"y":330},{"p":"C02","z":0.135,"x":1288,"y":340},
{"p":"C03","z":0.125,"x":1288,"y":340},{"p":"C03","z":0.125,"x":1370,"y":330},{"p":"C03","z":0.125,"x":1470,"y":320},{"p":"C03","z":0.125,"x":1476,"y":355},{"p":"C03","z":0.125,"x":1365,"y":370},{"p":"C03","z":0.125,"x":1258,"y":385},
{"p":"C04","z":0.115,"x":1258,"y":385},{"p":"C04","z":0.115,"x":1365,"y":370},{"p":"C04","z":0.115,"x":1476,"y":355},{"p":"C04","z":0.115,"x":1482,"y":385},{"p":"C04","z":0.115,"x":1360,"y":405},{"p":"C04","z":0.115,"x":1230,"y":430},
{"p":"C05","z":0.105,"x":1230,"y":430},{"p":"C05","z":0.105,"x":1360,"y":405},{"p":"C05","z":0.105,"x":1482,"y":385},{"p":"C05","z":0.105,"x":1487,"y":415},{"p":"C05","z":0.105,"x":1355,"y":440},{"p":"C05","z":0.105,"x":1205,"y":470},
{"p":"C06","z":0.095,"x":1205,"y":470},{"p":"C06","z":0.095,"x":1355,"y":440},{"p":"C06","z":0.095,"x":1487,"y":415},{"p":"C06","z":0.095,"x":1491,"y":445},{"p":"C06","z":0.095,"x":1350,"y":480},{"p":"C06","z":0.095,"x":1183,"y":510},
{"p":"C07","z":0.085,"x":1183,"y":510},{"p":"C07","z":0.085,"x":1350,"y":480},{"p":"C07","z":0.085,"x":1491,"y":445},{"p":"C07","z":0.085,"x":1495,"y":470},{"p":"C07","z":0.085,"x":1345,"y":510},{"p":"C07","z":0.085,"x":1165,"y":545},
{"p":"C08","z":0.08,"x":1165,"y":545},{"p":"C08","z":0.08,"x":1345,"y":510},{"p":"C08","z":0.08,"x":1495,"y":470},{"p":"C08","z":0.08,"x":1507,"y":589},{"p":"C08","z":0.08,"x":1304,"y":566},{"p":"C08","z":0.08,"x":1270,"y":672},{"p":"C08","z":0.08,"x":1121,"y":634},
{"p":"F01","z":0.06,"x":1121,"y":634},{"p":"F01","z":0.06,"x":1200,"y":650},{"p":"F01","z":0.06,"x":1270,"y":672},{"p":"F01","z":0.06,"x":1262,"y":709},{"p":"F01","z":0.06,"x":1195,"y":675},{"p":"F01","z":0.06,"x":1113,"y":650},
{"p":"F02","z":0.0525,"x":1113,"y":650},{"p":"F02","z":0.0525,"x":1195,"y":675},{"p":"F02","z":0.0525,"x":1262,"y":709},{"p":"F02","z":0.0525,"x":1257,"y":731},{"p":"F02","z":0.0525,"x":1190,"y":695},{"p":"F02","z":0.0525,"x":1108,"y":660},
{"p":"F03","z":0.0475,"x":1108,"y":660},{"p":"F03","z":0.0475,"x":1190,"y":695},{"p":"F03","z":0.0475,"x":1257,"y":731},{"p":"F03","z":0.0475,"x":1252,"y":753},{"p":"F03","z":0.0475,"x":1185,"y":712},{"p":"F03","z":0.0475,"x":1102,"y":672},
{"p":"F04","z":0.0425,"x":1102,"y":672},{"p":"F04","z":0.0425,"x":1185,"y":712},{"p":"F04","z":0.0425,"x":1252,"y":753},{"p":"F04","z":0.0425,"x":1246,"y":775},{"p":"F04","z":0.0425,"x":1180,"y":730},{"p":"F04","z":0.0425,"x":1096,"y":685},
{"p":"F05","z":0.0375,"x":1096,"y":685},{"p":"F05","z":0.0375,"x":1180,"y":730},{"p":"F05","z":0.0375,"x":1246,"y":775},{"p":"F05","z":0.0375,"x":1240,"y":797},{"p":"F05","z":0.0375,"x":1175,"y":750},{"p":"F05","z":0.0375,"x":1088,"y":700},
{"p":"F06","z":0.0325,"x":1088,"y":700},{"p":"F06","z":0.0325,"x":1175,"y":750},{"p":"F06","z":0.0325,"x":1240,"y":797},{"p":"F06","z":0.0325,"x":1233,"y":819},{"p":"F06","z":0.0325,"x":1170,"y":770},{"p":"F06","z":0.0325,"x":1081,"y":716},
{"p":"F07","z":0.0275,"x":1081,"y":716},{"p":"F07","z":0.0275,"x":1170,"y":770},{"p":"F07","z":0.0275,"x":1233,"y":819},{"p":"F07","z":0.0275,"x":1226,"y":841},{"p":"F07","z":0.0275,"x":1160,"y":795},{"p":"F07","z":0.0275,"x":1068,"y":738},
{"p":"F08","z":0.0225,"x":1068,"y":738},{"p":"F08","z":0.0225,"x":1160,"y":795},{"p":"F08","z":0.0225,"x":1226,"y":841},{"p":"F08","z":0.0225,"x":1221,"y":863},{"p":"F08","z":0.0225,"x":1145,"y":820},{"p":"F08","z":0.0225,"x":1056,"y":760},
{"p":"F09","z":0.0175,"x":1056,"y":760},{"p":"F09","z":0.0175,"x":1145,"y":820},{"p":"F09","z":0.0175,"x":1221,"y":863},{"p":"F09","z":0.0175,"x":1216,"y":885},{"p":"F09","z":0.0175,"x":1130,"y":845},{"p":"F09","z":0.0175,"x":1044,"y":782},
{"p":"F10","z":0.0125,"x":1044,"y":782},{"p":"F10","z":0.0125,"x":1130,"y":845},{"p":"F10","z":0.0125,"x":1216,"y":885},{"p":"F10","z":0.0125,"x":1211,"y":907},{"p":"F10","z":0.0125,"x":1120,"y":865},{"p":"F10","z":0.0125,"x":1030,"y":805},
{"p":"F11","z":0.0075,"x":1030,"y":805},{"p":"F11","z":0.0075,"x":1120,"y":865},{"p":"F11","z":0.0075,"x":1211,"y":907},{"p":"F11","z":0.0075,"x":1206,"y":929},{"p":"F11","z":0.0075,"x":1100,"y":885},{"p":"F11","z":0.0075,"x":1017,"y":827},
{"p":"F12","z":0.0025,"x":1017,"y":827},{"p":"F12","z":0.0025,"x":1100,"y":885},{"p":"F12","z":0.0025,"x":1206,"y":929},{"p":"F12","z":0.0025,"x":1200,"y":951},{"p":"F12","z":0.0025,"x":1154,"y":938},{"p":"F12","z":0.0025,"x":1103,"y":921},{"p":"F12","z":0.0025,"x":1052,"y":899},{"p":"F12","z":0.0025,"x":1016,"y":871},{"p":"F12","z":0.0025,"x":1004,"y":849}
],
"hmesh":[
{"p":"a1","x":563,"y":300},{"p":"a1","x":532,"y":420},{"p":"a1","x":480,"y":720},
{"p":"a2","x":585,"y":300},{"p":"a2","x":568,"y":420},{"p":"a2","x":540,"y":738},
{"p":"a3","x":606,"y":300},{"p":"a3","x":604,"y":420},{"p":"a3","x":600,"y":750},
{"p":"a4","x":628,"y":300},{"p":"a4","x":640,"y":420},{"p":"a4","x":660,"y":756},
{"p":"a5","x":650,"y":300},{"p":"a5","x":676,"y":420},{"p":"a5","x":720,"y":760},
{"p":"a6","x":671,"y":300},{"p":"a6","x":712,"y":420},{"p":"a6","x":780,"y":752},
{"p":"a7","x":693,"y":300},{"p":"a7","x":748,"y":420},{"p":"a7","x":840,"y":742},
{"p":"a8","x":714,"y":300},{"p":"a8","x":784,"y":420},{"p":"a8","x":900,"y":720},
{"p":"b1","x":602,"y":300},{"p":"b1","x":556,"y":420},{"p":"b1","x":480,"y":720},
{"p":"b2","x":623,"y":300},{"p":"b2","x":592,"y":420},{"p":"b2","x":540,"y":738},
{"p":"b3","x":645,"y":300},{"p":"b3","x":628,"y":420},{"p":"b3","x":600,"y":750},
{"p":"b4","x":666,"y":300},{"p":"b4","x":664,"y":420},{"p":"b4","x":660,"y":756},
{"p":"b5","x":688,"y":300},{"p":"b5","x":700,"y":420},{"p":"b5","x":720,"y":760},
{"p":"b6","x":710,"y":300},{"p":"b6","x":736,"y":420},{"p":"b6","x":780,"y":752},
{"p":"b7","x":731,"y":300},{"p":"b7","x":772,"y":420},{"p":"b7","x":840,"y":742},
{"p":"b8","x":753,"y":300},{"p":"b8","x":808,"y":420},{"p":"b8","x":900,"y":720},
{"p":"c1","x":1360,"y":300},{"p":"c1","x":1390,"y":612},{"p":"c1","x":1415,"y":800},
{"p":"c2","x":1400,"y":300},{"p":"c2","x":1430,"y":612},{"p":"c2","x":1450,"y":806},
{"p":"c3","x":1440,"y":300},{"p":"c3","x":1465,"y":612},{"p":"c3","x":1480,"y":812},
{"p":"c4","x":1320,"y":330},{"p":"c4","x":1350,"y":612},{"p":"c4","x":1370,"y":790},
{"p":"c5","x":1470,"y":340},{"p":"c5","x":1495,"y":620},{"p":"c5","x":1505,"y":820},
{"p":"d1","x":1300,"y":350},{"p":"d1","x":1230,"y":650},{"p":"d1","x":1154,"y":932},
{"p":"d2","x":1270,"y":380},{"p":"d2","x":1195,"y":650},{"p":"d2","x":1103,"y":915},
{"p":"d3","x":1240,"y":420},{"p":"d3","x":1160,"y":650},{"p":"d3","x":1060,"y":895},
{"p":"d4","x":1340,"y":330},{"p":"d4","x":1260,"y":640},{"p":"d4","x":1190,"y":945}
]},
"layer":[
{"data":{"name":"bar"},"mark":{"type":"rect","color":{"gradient":"linear","x1":0,"y1":0,"x2":0,"y2":1,"stops":[{"offset":0,"color":"#4a0000"},{"offset":0.1045,"color":"#a00000"},{"offset":0.2394,"color":"#ff0000"},{"offset":0.3477,"color":"#ff0000"},{"offset":0.4083,"color":"#ff7700"},{"offset":0.4958,"color":"#ffff00"},{"offset":0.5909,"color":"#99ff00"},{"offset":0.6648,"color":"#00ff00"},{"offset":0.7186,"color":"#00ffee"},{"offset":0.7348,"color":"#00ddff"},{"offset":0.7917,"color":"#0080ff"},{"offset":0.8436,"color":"#0000ff"},{"offset":0.8875,"color":"#6600ff"},{"offset":0.928,"color":"#8800bb"},{"offset":0.9818,"color":"#500060"},{"offset":1,"color":"#1a0020"}]}},"encoding":{"x":{"datum":1737,"type":"quantitative","scale":{"domain":[0,2175],"nice":false,"zero":false},"axis":null},"x2":{"datum":1813},"y":{"field":"a","type":"quantitative","scale":{"domain":[-0.105,0.156],"range":[1079,53],"nice":false,"zero":false},"axis":{"orient":"right","offset":-362,"title":null,"grid":false,"domain":false,"values":[0.156,0.1299,0.1038,0.0777,0.0516,0.0255,-0.0006,-0.0267,-0.0528,-0.0789,-0.105],"labelExpr":"datum.value==-0.0006?'-6.000E-04':abs(datum.value)>=0.1?format(datum.value,'.4f'):format(datum.value,'.5f')","labelFont":"Liberation Serif","labelFontSize":65,"labelColor":"#222222","labelPadding":24,"labelLimit":600,"tickSize":23,"tickWidth":2,"tickColor":"#444444","labelOverlap":false,"labelBound":false,"labelFlush":false}},"y2":{"field":"b"}}},
{"encoding":{"x":{"field":"x","type":"quantitative","scale":{"domain":[0,2175],"nice":false,"zero":false},"axis":null},"y":{"field":"y","type":"quantitative","scale":{"domain":[1615,0],"nice":false,"zero":false},"axis":null}},
"layer":[
{"data":{"name":"grid"},"mark":{"type":"rule","color":"#cfcfd6","strokeWidth":1.2},"encoding":{"x2":{"field":"x2"},"y2":{"field":"y2"}}},
{"data":{"name":"box"},"mark":{"type":"rule","color":"#777777","strokeWidth":1.8},"encoding":{"x2":{"field":"x2"},"y2":{"field":"y2"}}},
{"data":{"name":"axes"},"mark":{"type":"rule","color":"#333333","strokeWidth":2.4},"encoding":{"x2":{"field":"x2"},"y2":{"field":"y2"}}},
{"data":{"name":"barbox"},"mark":{"type":"rule","color":"#555555","strokeWidth":2},"encoding":{"x2":{"field":"x2"},"y2":{"field":"y2"}}},
{"data":{"name":"under"},"mark":{"type":"line","filled":true,"strokeWidth":1.2,"strokeJoin":"round","interpolate":"linear"},"encoding":{"detail":{"field":"p"},"order":{"value":null},"fill":{"field":"z","type":"quantitative","scale":{"domain":[0.156,0.1284,0.0928,0.0642,0.0482,0.0251,0,-0.0195,-0.0337,-0.038,-0.053,-0.0667,-0.0783,-0.089,-0.1032,-0.108],"range":["#4a0000","#a00000","#ff0000","#ff0000","#ff7700","#ffff00","#99ff00","#00ff00","#00ffee","#00ddff","#0080ff","#0000ff","#6600ff","#8800bb","#500060","#1a0020"]},"legend":null},"stroke":{"field":"z","type":"quantitative","scale":{"domain":[0.156,0.1284,0.0928,0.0642,0.0482,0.0251,0,-0.0195,-0.0337,-0.038,-0.053,-0.0667,-0.0783,-0.089,-0.1032,-0.108],"range":["#4a0000","#a00000","#ff0000","#ff0000","#ff7700","#ffff00","#99ff00","#00ff00","#00ffee","#00ddff","#0080ff","#0000ff","#6600ff","#8800bb","#500060","#1a0020"]},"legend":null}}},
{"data":{"name":"plane"},"mark":{"type":"line","filled":true,"fill":"#ffff00","stroke":"#ffff00","strokeWidth":1},"encoding":{"order":{"value":null}}},
{"data":{"name":"mesh"},"mark":{"type":"rule","color":"#e3bd2a","strokeWidth":1,"opacity":0.6},"encoding":{"x2":{"field":"x2"},"y2":{"field":"y2"}}},
{"data":{"name":"over"},"mark":{"type":"line","filled":true,"strokeWidth":1.2,"strokeJoin":"round","interpolate":"linear"},"encoding":{"detail":{"field":"p"},"order":{"value":null},"fill":{"field":"z","type":"quantitative","scale":{"domain":[0.156,0.1284,0.0928,0.0642,0.0482,0.0251,0,-0.0195,-0.0337,-0.038,-0.053,-0.0667,-0.0783,-0.089,-0.1032,-0.108],"range":["#4a0000","#a00000","#ff0000","#ff0000","#ff7700","#ffff00","#99ff00","#00ff00","#00ffee","#00ddff","#0080ff","#0000ff","#6600ff","#8800bb","#500060","#1a0020"]},"legend":null},"stroke":{"field":"z","type":"quantitative","scale":{"domain":[0.156,0.1284,0.0928,0.0642,0.0482,0.0251,0,-0.0195,-0.0337,-0.038,-0.053,-0.0667,-0.0783,-0.089,-0.1032,-0.108],"range":["#4a0000","#a00000","#ff0000","#ff0000","#ff7700","#ffff00","#99ff00","#00ff00","#00ffee","#00ddff","#0080ff","#0000ff","#6600ff","#8800bb","#500060","#1a0020"]},"legend":null}}},
{"data":{"name":"hmesh"},"mark":{"type":"line","color":"#888888","strokeWidth":1,"opacity":0.2,"interpolate":"monotone"},"encoding":{"detail":{"field":"p"},"order":{"value":null}}},
{"data":{"values":[{"t":"0.15","x":226,"y":138},{"t":"0.10","x":226,"y":342},{"t":"0.05","x":226,"y":541},{"t":"0.00","x":226,"y":735},{"t":"-0.05","x":228,"y":923},{"t":"-0.10","x":231,"y":1111}]},"mark":{"type":"text","align":"right","baseline":"middle","fontSize":66,"angle":355},"encoding":{"text":{"field":"t"}}},
{"data":{"values":[{"t":"Difference between ODFs","x":52,"y":648}]},"mark":{"type":"text","align":"center","baseline":"middle","fontSize":93,"angle":90},"encoding":{"text":{"field":"t"}}},
{"data":{"values":[{"t":"polar angles θs (degree)","x":477,"y":1375}]},"mark":{"type":"text","align":"center","baseline":"middle","fontSize":86,"fontStyle":"italic","angle":23},"encoding":{"text":{"field":"t"}}},
{"data":{"values":[{"t":"Azimuth angles φs (degree)","x":1478,"y":1378}]},"mark":{"type":"text","align":"center","baseline":"middle","fontSize":73,"angle":334},"encoding":{"text":{"field":"t"}}},
{"data":{"values":[{"t":"-90","x":210,"y":1155},{"t":"-45","x":382,"y":1230},{"t":"0","x":582,"y":1302},{"t":"45","x":768,"y":1392},{"t":"90","x":975,"y":1486}]},"mark":{"type":"text","align":"center","baseline":"middle","fontSize":58,"angle":330},"encoding":{"text":{"field":"t"}}},
{"data":{"values":[{"t":"0","x":1060,"y":1456},{"t":"45","x":1256,"y":1379},{"t":"90","x":1412,"y":1296},{"t":"135","x":1583,"y":1235},{"t":"180","x":1705,"y":1169}]},"mark":{"type":"text","align":"center","baseline":"middle","fontSize":58,"angle":18},"encoding":{"text":{"field":"t"}}},
{"data":{"values":[{"t":"ν","x":791,"y":219},{"t":"ε","x":1038,"y":219},{"t":"ε","x":1174,"y":219}]},"mark":{"type":"text","align":"left","baseline":"alphabetic","fontSize":76,"fontStyle":"italic"},"encoding":{"text":{"field":"t"}}},
{"data":{"values":[{"t":"=","x":835,"y":219},{"t":"0.3,","x":896,"y":219},{"t":"=","x":1109,"y":219},{"t":"=","x":1247,"y":219},{"t":"5%","x":1309,"y":219}]},"mark":{"type":"text","align":"left","baseline":"alphabetic","fontSize":76},"encoding":{"text":{"field":"t"}}},
{"data":{"values":[{"t":"2","x":1065,"y":245},{"t":"3","x":1203,"y":245}]},"mark":{"type":"text","align":"left","baseline":"alphabetic","fontSize":46},"encoding":{"text":{"field":"t"}}}
]}],
"resolve":{"scale":{"y":"independent"},"axis":{"y":"independent"}}}
